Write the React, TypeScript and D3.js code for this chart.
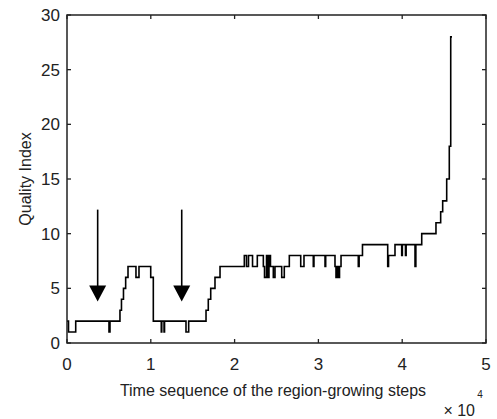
import React, { useRef, useEffect } from "react";
import * as d3 from "d3";

// step sequence (time step, quality index)
const stepX = [0, 180, 1040, 5010, 5130, 6320, 6500, 6740, 7000, 7280, 8230, 8590, 9990, 10300,
  11250, 11310, 11580, 11640, 14200, 14520, 16590, 16860, 17150, 17660, 18260,
  21160, 21420, 21660, 22140, 22710, 23430, 23570, 23810, 23990, 24100, 24280, 24620, 24820,
  25620, 25930, 26530, 27890, 28280, 29390, 29470, 30790, 30870,
  31980, 32100, 32220, 32400, 32520, 32700, 34760, 34860, 35260,
  38270, 38370, 39140, 39940, 40020, 40390, 40470, 41530, 41630,
  42330, 44030, 44590, 44830, 45310, 45620, 45790, 45940];
const stepY = [2, 1, 2, 1, 2, 3, 4, 5, 6, 7, 6, 7, 6, 2,
  1, 2, 1, 2, 1, 2, 3, 4, 5, 6, 7,
  8, 7, 8, 7, 8, 7, 6, 8, 6, 8, 7, 6, 7,
  6, 7, 8, 7, 8, 7, 8, 7, 8,
  7, 6, 7, 6, 7, 8, 7, 8, 9,
  7, 8, 9, 8, 9, 8, 9, 7, 9,
  10, 11, 12, 13, 15, 18, 28, 28];

// arrows marking events
const arrowX = [3660, 13690];
const arrowTop = 12.2;
const arrowTip = 3.8;

const xTicks = [0, 1, 2, 3, 4, 5];
const yTicks = [0, 5, 10, 15, 20, 25, 30];

const App = () => {
  const svgRef = useRef(null);
  const W = 497, H = 419;
  const left = 67, right = 486, top = 15, bottom = 343;

  useEffect(() => {
    const svg = d3.select(svgRef.current);
    svg.selectChildren().remove();
    const font = "'Liberation Sans', Arial, Helvetica, sans-serif";

    const x = d3.scaleLinear().domain([0, 5]).range([left, right]);
    const y = d3.scaleLinear().domain([0, 30]).range([bottom, top]);

    svg.append("rect").attr("width", W).attr("height", H).attr("fill", "#fff");

    // data line
    const pts = stepX.map((d, i) => [d / 10000, stepY[i]]);
    svg.append("path")
      .datum(pts)
      .attr("fill", "none")
      .attr("stroke", "#000")
      .attr("stroke-width", 1.6)
      .attr("d", d3.line().x(d => x(d[0])).y(d => y(d[1])).curve(d3.curveStepAfter));

    // arrows
    arrowX.forEach(a => {
      const ax = x(a / 10000);
      const tipY = y(arrowTip);
      svg.append("line")
        .attr("x1", ax).attr("x2", ax)
        .attr("y1", y(arrowTop)).attr("y2", tipY - 8)
        .attr("stroke", "#000").attr("stroke-width", 1.6);
      svg.append("path")
        .attr("d", `M${ax - 8.5},${tipY - 16} L${ax + 8.5},${tipY - 16} L${ax},${tipY} Z`)
        .attr("fill", "#000");
    });

    // box + ticks
    const axisCol = "#222";
    svg.append("rect")
      .attr("x", left).attr("y", top)
      .attr("width", right - left).attr("height", bottom - top)
      .attr("fill", "none").attr("stroke", axisCol).attr("stroke-width", 1.5);

    xTicks.forEach(t => {
      const px = x(t);
      svg.append("line").attr("x1", px).attr("x2", px).attr("y1", bottom).attr("y2", bottom - 4)
        .attr("stroke", axisCol).attr("stroke-width", 1.3);
      svg.append("line").attr("x1", px).attr("x2", px).attr("y1", top).attr("y2", top + 4)
        .attr("stroke", axisCol).attr("stroke-width", 1.3);
      svg.append("text")
        .attr("x", px).attr("y", 370)
        .attr("text-anchor", "middle")
        .style("font-family", font).style("font-size", "17px").attr("fill", "#222")
        .text(t);
    });

    yTicks.forEach(t => {
      const py = y(t);
      svg.append("line").attr("x1", left).attr("x2", left + 4).attr("y1", py).attr("y2", py)
        .attr("stroke", axisCol).attr("stroke-width", 1.3);
      svg.append("line").attr("x1", right).attr("x2", right - 4).attr("y1", py).attr("y2", py)
        .attr("stroke", axisCol).attr("stroke-width", 1.3);
      svg.append("text")
        .attr("x", 60).attr("y", py + 6)
        .attr("text-anchor", "end")
        .style("font-family", font).style("font-size", "17px").attr("fill", "#222")
        .text(t);
    });

    // axis labels
    svg.append("text")
      .attr("x", 273).attr("y", 396)
      .attr("text-anchor", "middle")
      .style("font-family", font).style("font-size", "16px").attr("fill", "#222")
      .text("Time sequence of the region-growing steps");

    svg.append("text")
      .attr("transform", `translate(31, ${(top + bottom) / 2}) rotate(-90)`)
      .attr("text-anchor", "middle")
      .style("font-family", font).style("font-size", "16px").attr("fill", "#222")
      .text("Quality Index");

    svg.append("text")
      .attr("x", 475).attr("y", 416)
      .attr("text-anchor", "end")
      .style("font-family", font).style("font-size", "16px").attr("fill", "#222")
      .text("\u00d7 10");
    svg.append("text")
      .attr("x", 480).attr("y", 398)
      .attr("text-anchor", "middle")
      .style("font-family", font).style("font-size", "10px").attr("fill", "#222")
      .text("4");
  });

  return (
    <div style={{ position: "absolute", left: 0, top: 0 }}>
      <svg ref={svgRef} width={W} height={H} style={{ display: "block" }}></svg>
    </div>
  );
};

export default App;
